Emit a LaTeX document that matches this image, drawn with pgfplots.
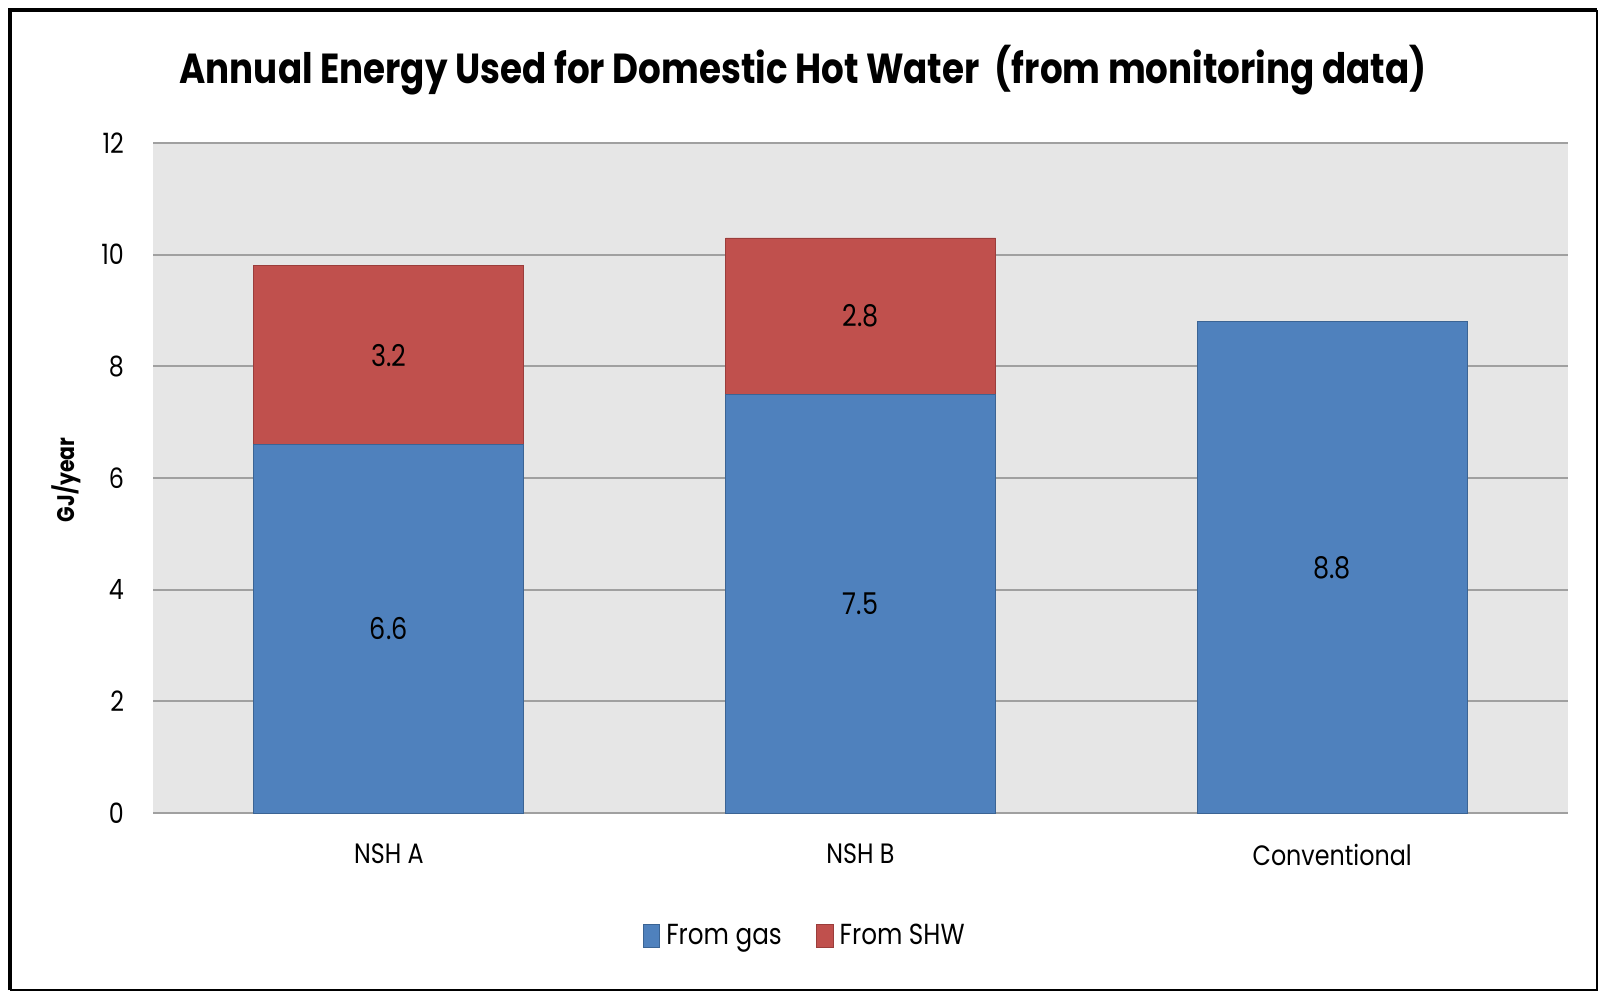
\documentclass[border=0pt]{standalone}
\usepackage{fontspec}
\setmainfont{Poppins}[FakeStretch=0.85]
\usepackage{pgfplots}
\pgfplotsset{compat=1.18}
\definecolor{bluec}{HTML}{4F81BD}
\definecolor{blued}{HTML}{3B6494}
\definecolor{redc}{HTML}{C0504D}
\definecolor{redd}{HTML}{9B3D3B}
\definecolor{bgc}{HTML}{E6E6E6}
\definecolor{gridc}{HTML}{A0A0A0}
\begin{document}
\begin{tikzpicture}
\path[use as bounding box] (0,0) rectangle (800pt,496.5pt);
\fill[white] (0,0) rectangle (800pt,496.5pt);
\begin{axis}[
  at={(76.5pt,90pt)}, anchor=south west,
  scale only axis, width=707.5pt, height=335pt,
  xmin=-0.5, xmax=2.5, ymin=0, ymax=12,
  ytick={0,2,...,12}, xtick={0,1,2}, xticklabels={NSH A,NSH B,Conventional},
  ymajorgrids, grid style={draw=gridc, line width=1.1pt},
  axis line style={draw=none}, major tick length=0pt,
  axis background/.style={fill=bgc},
  ybar, bar width=135pt,
  /pgf/number format/assume math mode=true,
  tick label style={font=\fontsize{14}{16}\selectfont, text=black},
  yticklabel style={xshift=-11pt},
  xticklabel style={yshift=-12pt},
  every axis y label/.style={at={(axis description cs:-0.0615,0.497)}, rotate=90, anchor=center},
  ylabel={\fontsize{12}{14}\selectfont\bfseries GJ/year},
  legend style={at={(0.4615,-0.1836)}, anchor=center, draw=none, fill=none,
    legend columns=2, font=\fontsize{14.5}{16}\selectfont,
    /tikz/every even column/.append style={column sep=15pt},
    /tikz/every odd column/.append style={column sep=1pt}},
  legend cell align=left,
]
\addplot[fill=redc, draw=redd, bar shift=0pt, forget plot] coordinates {(0,9.8) (1,10.3)};
\addplot[fill=bluec, draw=blued, bar shift=0pt, forget plot] coordinates {(0,6.6) (1,7.5) (2,8.8)};
\addplot[draw=none, fill=none, bar shift=0pt, forget plot, nodes near coords, point meta=explicit symbolic,
  every node near coord/.append style={anchor=center, font=\fontsize{15}{17}\selectfont, text=black}]
  coordinates {(0,3.3)[6.6] (1,3.75)[7.5] (2,4.4)[8.8] (0,8.2)[3.2] (1,8.9)[2.8]};
\addlegendimage{legend image code/.code={\draw[fill=bluec,draw=blued] (0pt,-5.75pt) rectangle (8pt,5.75pt);}}
\addlegendentry{From gas}
\addlegendimage{legend image code/.code={\draw[fill=redc,draw=redd] (0pt,-5.75pt) rectangle (8.5pt,5.75pt);}}
\addlegendentry{From SHW}
\end{axis}
\node[anchor=base, font=\fontsize{21}{25}\selectfont\bfseries] at (401.5pt,454.5pt) {Annual Energy Used for Domestic Hot Water\ \ (from monitoring data)};
\draw[line width=2.2pt] (5pt,1.5pt) -- (5pt,491.5pt) -- (798.5pt,491.5pt);
\draw[line width=1pt] (5pt,1.5pt) -- (798.5pt,1.5pt) -- (798.5pt,491.5pt);
\end{tikzpicture}
\end{document}
